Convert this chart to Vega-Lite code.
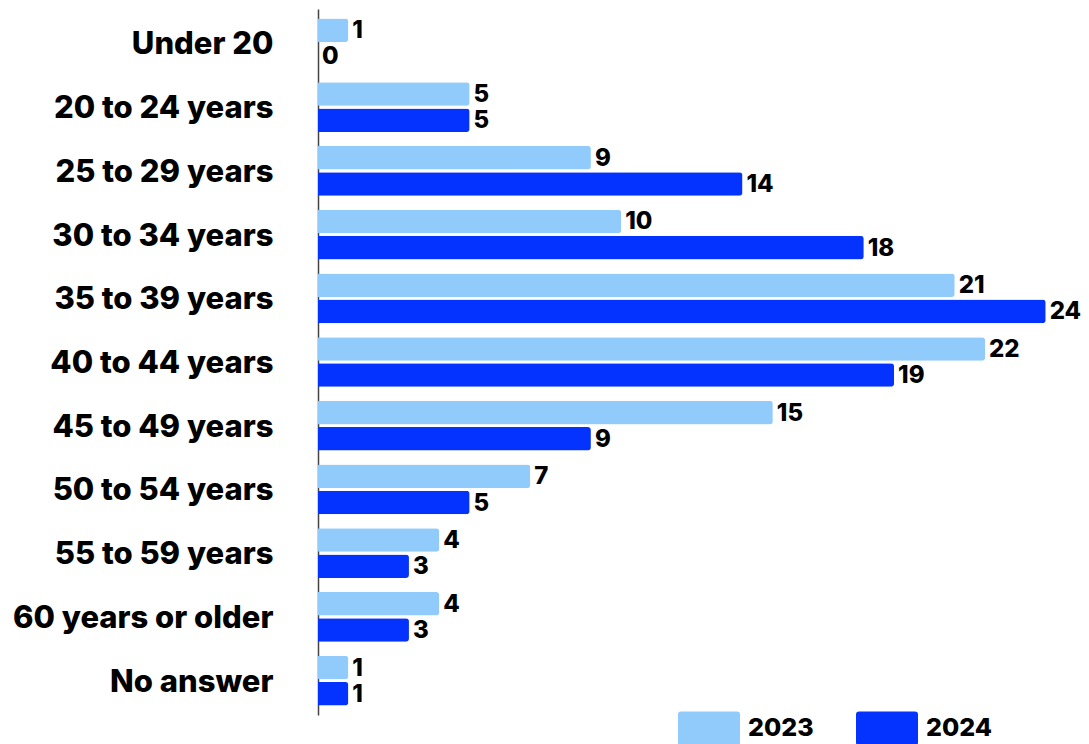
{
  "$schema": "https://vega.github.io/schema/vega-lite/v6.json",
  "autosize": {"type": "none"},
  "padding": {"left": 318, "top": 9, "right": 13, "bottom": 29},
  "width": 758,
  "height": 706,
  "background": "white",
  "config": {"view": {"stroke": null}, "font": "Inter"},
  "data": {"values": [
    {"age": "Under 20", "year": "2023", "count": 1},
    {"age": "Under 20", "year": "2024", "count": 0},
    {"age": "20 to 24 years", "year": "2023", "count": 5},
    {"age": "20 to 24 years", "year": "2024", "count": 5},
    {"age": "25 to 29 years", "year": "2023", "count": 9},
    {"age": "25 to 29 years", "year": "2024", "count": 14},
    {"age": "30 to 34 years", "year": "2023", "count": 10},
    {"age": "30 to 34 years", "year": "2024", "count": 18},
    {"age": "35 to 39 years", "year": "2023", "count": 21},
    {"age": "35 to 39 years", "year": "2024", "count": 24},
    {"age": "40 to 44 years", "year": "2023", "count": 22},
    {"age": "40 to 44 years", "year": "2024", "count": 19},
    {"age": "45 to 49 years", "year": "2023", "count": 15},
    {"age": "45 to 49 years", "year": "2024", "count": 9},
    {"age": "50 to 54 years", "year": "2023", "count": 7},
    {"age": "50 to 54 years", "year": "2024", "count": 5},
    {"age": "55 to 59 years", "year": "2023", "count": 4},
    {"age": "55 to 59 years", "year": "2024", "count": 3},
    {"age": "60 years or older", "year": "2023", "count": 4},
    {"age": "60 years or older", "year": "2024", "count": 3},
    {"age": "No answer", "year": "2023", "count": 1},
    {"age": "No answer", "year": "2024", "count": 1}
  ]},
  "encoding": {
    "y": {
      "field": "age", "type": "nominal", "sort": null,
      "scale": {"paddingInner": 0.22, "paddingOuter": 0.15},
      "axis": {
        "title": null, "ticks": false, "grid": false,
        "domainColor": "#444", "domainWidth": 1.5,
        "labelFont": "Inter", "labelFontSize": 31, "labelFontWeight": 800,
        "labelColor": "#000", "labelPadding": 45, "labelLimit": 400, "labelOffset": 2
      }
    },
    "yOffset": {"field": "year", "type": "nominal", "scale": {"paddingInner": 0.1}},
    "x": {
      "field": "count", "type": "quantitative",
      "scale": {"domain": [0, 25], "nice": false},
      "axis": null
    }
  },
  "layer": [
    {
      "mark": {"type": "bar", "cornerRadiusEnd": 3},
      "encoding": {
        "color": {
          "field": "year", "type": "nominal",
          "scale": {"domain": ["2023", "2024"], "range": ["#90CBFB", "#0433FF"]},
          "legend": {
            "title": null, "orient": "none", "direction": "horizontal",
            "legendX": 360, "legendY": 688, "padding": 0,
            "symbolType": "M-0.9,-0.55 L0.9,-0.55 Q1,-0.55 1,-0.45 L1,0.45 Q1,0.55 0.9,0.55 L-0.9,0.55 Q-1,0.55 -1,0.45 L-1,-0.45 Q-1,-0.55 -0.9,-0.55 Z",
            "symbolSize": 3844, "symbolStrokeWidth": 0, "symbolOpacity": 1,
            "labelFont": "Inter", "labelFontSize": 25, "labelFontWeight": 800,
            "labelColor": "#000", "labelOffset": 8, "columnPadding": 42
          }
        }
      }
    },
    {
      "mark": {"type": "text", "align": "left", "baseline": "middle", "dx": 4, "dy": 1,
               "font": "Inter", "fontSize": 24, "fontWeight": 800, "color": "#000"},
      "encoding": {"text": {"field": "count", "type": "quantitative"}}
    }
  ]
}
